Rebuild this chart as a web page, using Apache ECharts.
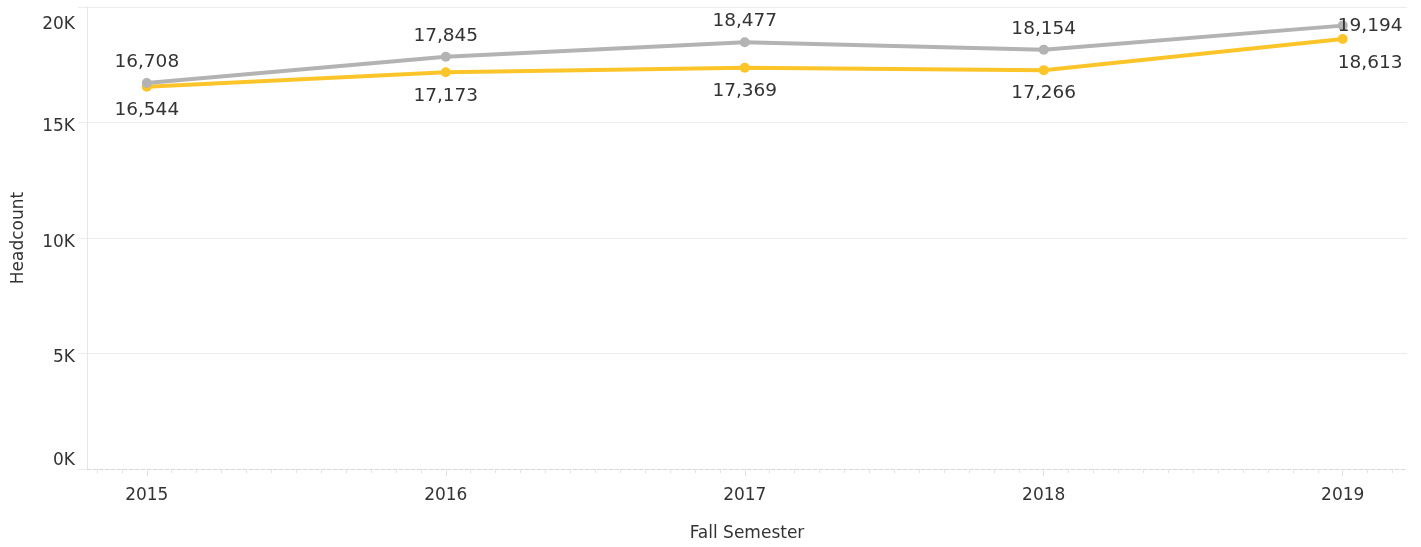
<!DOCTYPE html>
<html>
<head>
<meta charset="utf-8">
<script src="https://cdn.jsdelivr.net/npm/echarts@6/dist/echarts.min.js"></script>
<style>
html,body{margin:0;padding:0;background:#fff;}
#chart{width:1421px;height:547px;}
</style>
</head>
<body>
<div id="chart"></div>
<script>
// ---- data ----
const years = [2015, 2016, 2017, 2018, 2019];
const grayValues = [16708, 17845, 18477, 18154, 19194];
const yellowValues = [16544, 17173, 17369, 17266, 18613];
const yTicks = [0, 5000, 10000, 15000, 20000];

const FONT = '"DejaVu Sans", sans-serif';
const TXT = '#333333';

// monthly minor ticks on the year axis
const monthTicks = [];
for (let y = years[0] - 1; y <= years[years.length - 1] + 1; y++) {
  for (let m = 0; m < 12; m++) monthTicks.push(+(y + m / 12).toFixed(5));
}

function makeData(vals, above) {
  return vals.map((v, i) => {
    const item = { value: [years[i], v] };
    if (i === vals.length - 1) {
      item.label = above
        ? { position: 'right', offset: [-16, 1] }
        : { position: 'right', offset: [-19, 24] };
    }
    return item;
  });
}

const chart = echarts.init(document.getElementById('chart'), null, { renderer: 'canvas' });
const xMin = 2014.8, xMax = 2019.215;

chart.setOption({
  animation: false,
  backgroundColor: '#ffffff',
  textStyle: { fontFamily: FONT },
  grid: { left: 87, right: 14, top: 7, bottom: 75, containLabel: false },
  xAxis: [
    {
      type: 'value', min: xMin, max: xMax,
      name: 'Fall Semester', nameLocation: 'middle', nameGap: 56,
      nameTextStyle: { fontFamily: FONT, fontSize: 17, color: TXT },
      axisLine: { show: true, lineStyle: { color: '#d9d9d9', type: 'dashed', width: 1 } },
      axisTick: { show: true, customValues: years, length: 7, lineStyle: { color: '#d9d9d9' } },
      axisLabel: { show: true, customValues: years, margin: 18, fontFamily: FONT, fontSize: 17, color: TXT,
        formatter: v => String(Math.round(v)) },
      splitLine: { show: false }
    },
    {
      type: 'value', min: xMin, max: xMax, position: 'bottom',
      axisLine: { show: false },
      axisTick: { show: true, customValues: monthTicks.filter(t => t >= xMin && t <= xMax), length: 4, lineStyle: { color: '#e3e3e3' } },
      axisLabel: { show: false },
      splitLine: { show: false }
    }
  ],
  yAxis: {
    type: 'value', min: yTicks[0], max: yTicks[yTicks.length - 1], interval: 5000,
    name: 'Headcount', nameLocation: 'middle', nameGap: 60, nameRotate: 90,
    nameTextStyle: { fontFamily: FONT, fontSize: 17, color: TXT },
    axisLine: { show: true, lineStyle: { color: '#e6e6e6', width: 1 } },
    axisTick: { show: true, length: 9, lineStyle: { color: '#ececec' } },
    axisLabel: {
      margin: 12, fontFamily: FONT, fontSize: 17, color: TXT,
      formatter: v => {
        const s = (v / 1000) + 'K';
        if (v === yTicks[yTicks.length - 1]) return '{top|' + s + '}';
        if (v === yTicks[0]) return '{bot|' + s + '}';
        return '{mid|' + s + '}';
      },
      rich: {
        top: { fontFamily: FONT, fontSize: 17, color: TXT, padding: [36, 0, 0, 0] },
        bot: { fontFamily: FONT, fontSize: 17, color: TXT, padding: [0, 0, 16, 0] },
        mid: { fontFamily: FONT, fontSize: 17, color: TXT, padding: [9, 0, 0, 0] }
      }
    },
    splitLine: { show: true, lineStyle: { color: ['rgba(0,0,0,0)', '#ececec', '#ececec', '#ececec', '#ececec'], width: 1 } }
  },
  series: [
    {
      name: 'Yellow', type: 'line', xAxisIndex: 0,
      data: makeData(yellowValues, false),
      symbol: 'circle', symbolSize: 10,
      lineStyle: { color: '#fbc52a', width: 4 },
      itemStyle: { color: '#fbc52a' },
      label: { show: true, position: 'bottom', distance: 9, fontFamily: FONT, fontSize: 18.5, color: TXT,
        formatter: p => p.value[1].toLocaleString('en-US') },
      z: 2
    },
    {
      name: 'Gray', type: 'line', xAxisIndex: 0,
      data: makeData(grayValues, true),
      symbol: 'circle', symbolSize: 10,
      lineStyle: { color: '#b3b3b3', width: 4 },
      itemStyle: { color: '#b3b3b3' },
      label: { show: true, position: 'top', distance: 6, fontFamily: FONT, fontSize: 18.5, color: TXT,
        formatter: p => p.value[1].toLocaleString('en-US') },
      z: 3
    }
  ]
});
</script>
</body>
</html>
